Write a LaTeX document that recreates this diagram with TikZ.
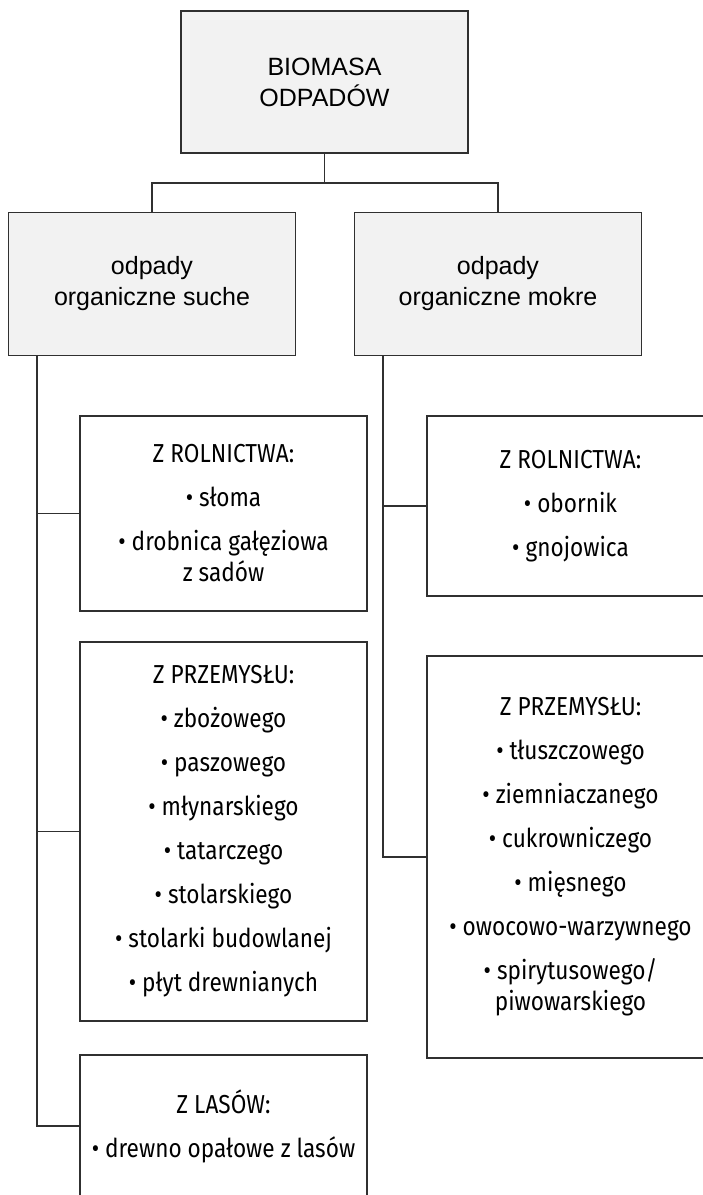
\documentclass[tikz,border=0pt]{standalone}
\usepackage{fontspec}
\usepackage{xcolor}
\setmainfont{Liberation Sans}
\newfontfamily\condfont{Fira Sans}[FakeStretch=0.87]
\definecolor{boxgray}{HTML}{F2F2F2}
\definecolor{linegray}{HTML}{303030}

\begin{document}
\begin{tikzpicture}[x=1pt, y=-1pt,
    head/.style={draw=linegray, line width=1.2pt, fill=boxgray, minimum width=287pt, minimum height=142pt, align=center, inner sep=0pt, font=\fontsize{25}{31}\selectfont},
    src/.style={draw=linegray, line width=1.2pt, fill=white, minimum width=287pt, align=center, inner sep=0pt, font=\condfont\fontsize{26}{31}\selectfont},
    link/.style={draw=linegray, line width=1.2pt}]
    \useasboundingbox (0, 0) rectangle (702, 1195);

    \node [head] (root) at (324.5, 82) {BIOMASA\\ODPADÓW};
    \node [head, minimum height=143pt] (dry) at (152, 284) {odpady\\organiczne suche};
    \node [head, minimum height=143pt] (wet) at (498, 284) {odpady\\organiczne mokre};

    \node [src, minimum height=195pt] (dryA) at (223.5, 513.5) {Z ROLNICTWA:\\[13pt] • słoma\\[13pt] • drobnica gałęziowa\\ z sadów};
    \node [src, minimum height=379pt] (dryB) at (223.5, 831.5) {Z PRZEMYSŁU:\\[13pt] • zbożowego\\[13pt] • paszowego\\[13pt] • młynarskiego\\[13pt] • tatarczego\\[13pt] • stolarskiego\\[13pt] • stolarki budowlanej\\[13pt] • płyt drewnianych};
    \node [src, minimum height=142pt] (dryC) at (223.5, 1126) {Z LASÓW:\\[13pt] • drewno opałowe z lasów};
    \node [src, minimum height=180pt] (wetA) at (570.5, 506) {Z ROLNICTWA:\\[13pt] • obornik\\[13pt] • gnojowica};
    \node [src, minimum height=402pt] (wetB) at (570.5, 857) {Z PRZEMYSŁU:\\[13pt] • tłuszczowego\\[13pt] • ziemniaczanego\\[13pt] • cukrowniczego\\[13pt] • mięsnego\\[13pt] • owocowo-warzywnego\\[13pt] • spirytusowego/\\ piwowarskiego};

    \coordinate (bus) at (324.5, 183);
    \coordinate (dryT) at (37, 355.5);
    \coordinate (wetT) at (383, 355.5);

    \draw [link] (root.south) -- (bus);
    \draw [link] (dry.north) |- (bus) -| (wet.north);
    \draw [link] (dryT) |- (dryA.west);
    \draw [link] (dryT) |- (dryB.west);
    \draw [link] (dryT) |- (dryC.west);
    \draw [link] (wetT) |- (wetA.west);
    \draw [link] (wetT) |- (wetB.west);

\end{tikzpicture}
\end{document}
